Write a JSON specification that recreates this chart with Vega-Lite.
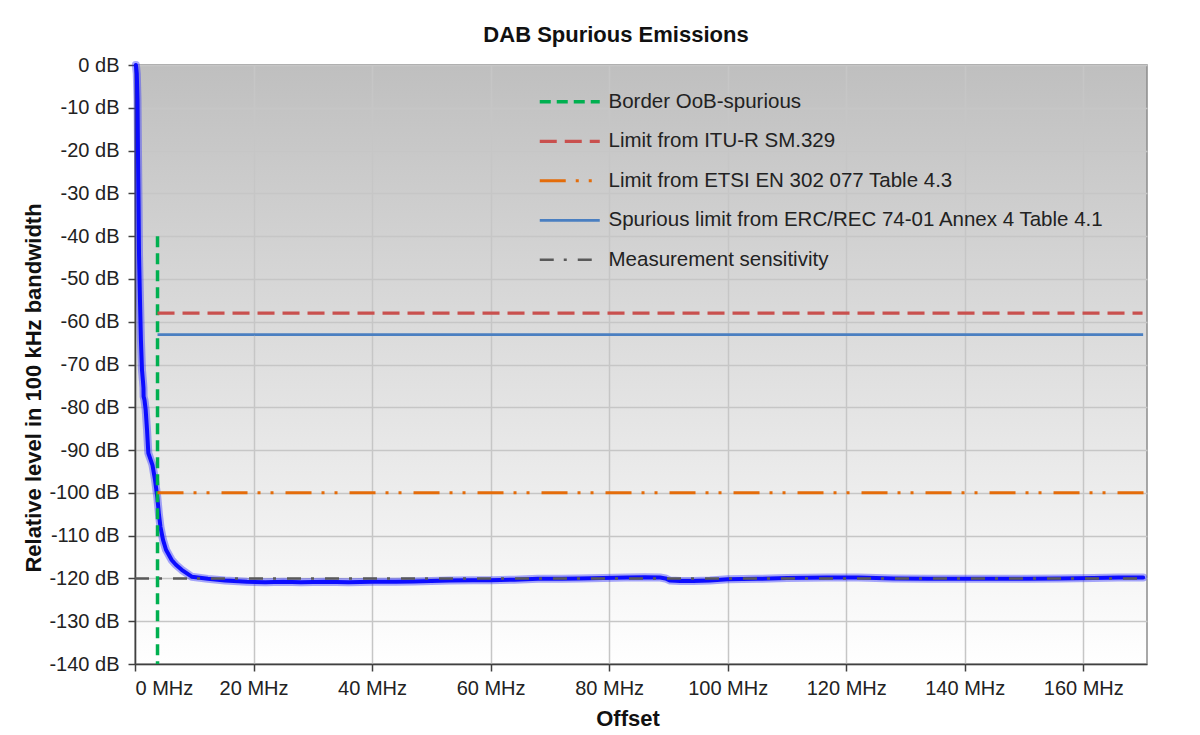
{
  "$schema": "https://vega.github.io/schema/vega-lite/v6.json",
  "width": 1012,
  "height": 599,
  "autosize": {"type": "none"},
  "padding": {"left": 135, "top": 65, "right": 53, "bottom": 71},
  "background": "#ffffff",
  "view": {
    "fill": {"gradient": "linear", "x1": 0, "y1": 0, "x2": 0, "y2": 1,
      "stops": [{"offset": 0, "color": "#bfbfbf"}, {"offset": 1, "color": "#ffffff"}]},
    "stroke": "#8c8c8c",
    "strokeWidth": 1.5
  },
  "title": {
    "text": "DAB Spurious Emissions",
    "fontSize": 22,
    "fontWeight": "bold",
    "font": "Liberation Sans",
    "color": "#111111",
    "anchor": "middle",
    "dx": -25,
    "offset": 8
  },
  "datasets": {
    "trace": [
      {"f": 0.15, "db": 0}, {"f": 0.3, "db": -2}, {"f": 0.42, "db": -8}, {"f": 0.5, "db": -20},
      {"f": 0.59, "db": -31.5}, {"f": 0.68, "db": -44.4}, {"f": 0.84, "db": -54.9}, {"f": 1.0, "db": -64.3},
      {"f": 1.18, "db": -71.3}, {"f": 1.35, "db": -74}, {"f": 1.43, "db": -75.5}, {"f": 1.45, "db": -77.5},
      {"f": 1.6, "db": -78.3}, {"f": 1.8, "db": -80.6}, {"f": 2.03, "db": -85.3}, {"f": 2.25, "db": -90.7},
      {"f": 2.6, "db": -92.1}, {"f": 2.95, "db": -93.5}, {"f": 3.38, "db": -97}, {"f": 3.76, "db": -101},
      {"f": 4.05, "db": -105.2}, {"f": 4.3, "db": -108}, {"f": 4.73, "db": -111}, {"f": 5.23, "db": -113.3},
      {"f": 6.19, "db": -115.7}, {"f": 6.9, "db": -116.8}, {"f": 7.88, "db": -118}, {"f": 9.57, "db": -119.6},
      {"f": 12.3, "db": -120.1}, {"f": 15.2, "db": -120.5}, {"f": 18.9, "db": -120.8}, {"f": 22, "db": -120.9},
      {"f": 25, "db": -120.8}, {"f": 28, "db": -120.9}, {"f": 32, "db": -120.8}, {"f": 36, "db": -120.9},
      {"f": 40, "db": -120.8}, {"f": 44, "db": -120.8}, {"f": 47, "db": -120.7}, {"f": 50, "db": -120.6},
      {"f": 53, "db": -120.5}, {"f": 57, "db": -120.4}, {"f": 60, "db": -120.4}, {"f": 64, "db": -120.3},
      {"f": 68, "db": -120.1}, {"f": 72, "db": -120.1}, {"f": 75, "db": -120.0}, {"f": 79, "db": -119.9},
      {"f": 83, "db": -119.8}, {"f": 86, "db": -119.7}, {"f": 88.6, "db": -119.8}, {"f": 89.5, "db": -120},
      {"f": 90.3, "db": -120.5}, {"f": 92, "db": -120.6}, {"f": 94.2, "db": -120.6}, {"f": 97, "db": -120.5},
      {"f": 100, "db": -120.2}, {"f": 105, "db": -120.1}, {"f": 110, "db": -119.9}, {"f": 116.8, "db": -119.8},
      {"f": 122, "db": -119.8}, {"f": 128, "db": -120.0}, {"f": 134, "db": -120.1}, {"f": 139, "db": -120.1},
      {"f": 145, "db": -120.1}, {"f": 150.5, "db": -120.1}, {"f": 156, "db": -120}, {"f": 161.7, "db": -119.9},
      {"f": 166, "db": -119.8}, {"f": 170.1, "db": -119.8}
    ],
    "refs": [
      {"series": "Border OoB-spurious", "f": 3.8, "db": -40},
      {"series": "Border OoB-spurious", "f": 3.8, "db": -140},
      {"series": "Limit from ITU-R SM.329", "f": 3.8, "db": -58},
      {"series": "Limit from ITU-R SM.329", "f": 170, "db": -58},
      {"series": "Limit from ETSI EN 302 077 Table 4.3", "f": 3.8, "db": -100},
      {"series": "Limit from ETSI EN 302 077 Table 4.3", "f": 170.3, "db": -100},
      {"series": "Spurious limit from ERC/REC 74-01 Annex 4 Table 4.1", "f": 3.8, "db": -63},
      {"series": "Spurious limit from ERC/REC 74-01 Annex 4 Table 4.1", "f": 170.1, "db": -63},
      {"series": "Measurement sensitivity", "f": 0, "db": -120},
      {"series": "Measurement sensitivity", "f": 170.3, "db": -120}
    ]
  },
  "encoding": {
    "x": {
      "field": "f", "type": "quantitative",
      "scale": {"domain": [0, 170.75], "nice": false, "zero": false},
      "axis": {
        "title": "Offset",
        "values": [0, 20, 40, 60, 80, 100, 120, 140, 160],
        "labelExpr": "datum.value + ' MHz'",
        "titleX": 492.5, "titleY": 61, "titleBaseline": "alphabetic", "titleAnchor": "middle", "titleAlign": "center"
      }
    },
    "y": {
      "field": "db", "type": "quantitative",
      "scale": {"domain": [-140, 0], "nice": false, "zero": false},
      "axis": {
        "title": "Relative level in 100 kHz bandwidth",
        "values": [-140, -130, -120, -110, -100, -90, -80, -70, -60, -50, -40, -30, -20, -10, 0],
        "labelExpr": "datum.value + ' dB'",
        "titleX": -95, "titleY": 322.5, "titleBaseline": "alphabetic", "titleAngle": -90, "titleAlign": "center"
      }
    }
  },
  "layer": [
    {
      "data": {"name": "trace"},
      "mark": {"type": "line", "color": "#2a2aff", "strokeWidth": 8, "opacity": 0.4, "strokeJoin": "round", "strokeCap": "round"}
    },
    {
      "data": {"name": "trace"},
      "mark": {"type": "line", "color": "#0c0cff", "strokeWidth": 4, "strokeJoin": "round", "strokeCap": "round"}
    },
    {
      "data": {"name": "refs"},
      "mark": {"type": "line"},
      "encoding": {
        "detail": {"field": "series"},
        "color": {
          "field": "series", "type": "nominal",
          "scale": {
            "domain": ["Border OoB-spurious", "Limit from ITU-R SM.329", "Limit from ETSI EN 302 077 Table 4.3", "Spurious limit from ERC/REC 74-01 Annex 4 Table 4.1", "Measurement sensitivity"],
            "range": ["#00b050", "#c9504e", "#e46c0a", "#4a7fc1", "#595959"]
          },
          "legend": {"title": null}
        },
        "strokeDash": {
          "field": "series", "type": "nominal",
          "scale": {
            "domain": ["Border OoB-spurious", "Limit from ITU-R SM.329", "Limit from ETSI EN 302 077 Table 4.3", "Spurious limit from ERC/REC 74-01 Annex 4 Table 4.1", "Measurement sensitivity"],
            "range": [[11, 6], [17, 8], [26, 10, 3, 10, 3, 12], [1, 0], [14, 10, 3, 11]]
          },
          "legend": {"title": null}
        },
        "strokeWidth": {
          "field": "series", "type": "nominal",
          "scale": {
            "domain": ["Border OoB-spurious", "Limit from ITU-R SM.329", "Limit from ETSI EN 302 077 Table 4.3", "Spurious limit from ERC/REC 74-01 Annex 4 Table 4.1", "Measurement sensitivity"],
            "range": [3.5, 2.5, 4, 2, 3.5]
          },
          "legend": {"title": null}
        }
      }
    }
  ],
  "config": {
    "font": "Liberation Sans",
    "axis": {
      "labelFont": "Liberation Sans",
      "labelFontSize": 20,
      "labelColor": "#222222",
      "titleFont": "Liberation Sans",
      "titleFontSize": 22,
      "titleFontWeight": "bold",
      "titleColor": "#111111",
      "domainColor": "#404040",
      "domainWidth": 1.5,
      "tickColor": "#404040",
      "tickWidth": 1.5,
      "tickSize": 7,
      "gridColor": "#c6c6c6",
      "gridWidth": 1.5
    },
    "axisX": {"labelPadding": 7},
    "axisY": {"labelPadding": 9},
    "legend": {
      "orient": "none",
      "legendX": 424.5,
      "legendY": 26.5,
      "padding": 0,
      "labelFont": "Liberation Sans",
      "labelFontSize": 20.5,
      "labelColor": "#222222",
      "symbolType": "M-4,0H4",
      "symbolSize": 225,
      "labelOffset": 28.5,
      "rowPadding": 18.5,
      "labelLimit": 700
    }
  }
}
